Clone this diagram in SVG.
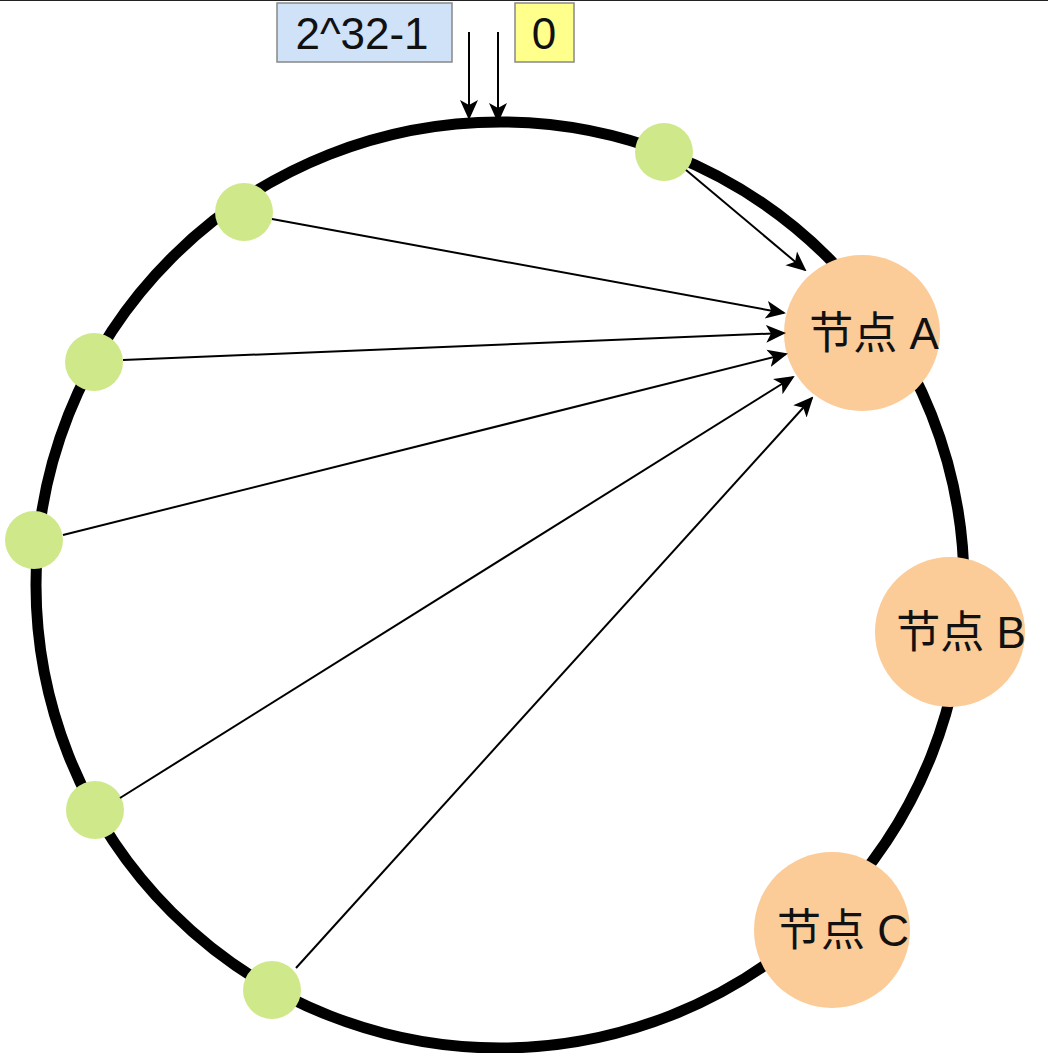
<svg xmlns="http://www.w3.org/2000/svg" width="1048" height="1053" viewBox="0 0 1048 1053">
<style>
.ring{fill:none;stroke:#000;stroke-width:11}
.key{fill:#cfe88a}
.node{fill:#fbcb98}
.edge{stroke:#000;stroke-width:2;fill:none}
.lbl{font-family:"Liberation Sans","Noto Sans CJK SC",sans-serif;font-size:44px;fill:#111;text-anchor:middle;dominant-baseline:central}
</style>
<defs>
<marker id="arr" viewBox="0 0 20 20" refX="18" refY="10" markerWidth="20" markerHeight="20" markerUnits="userSpaceOnUse" orient="auto">
<path d="M0,1 L20,10 L0,19 L5,10 Z" fill="#000"/>
</marker>
</defs>
<rect width="1048" height="1053" fill="#fff"/>
<line x1="0" y1="0.5" x2="1048" y2="0.5" stroke="#222" stroke-width="1"/>
<g id="ring"><ellipse class="ring" cx="500" cy="585" rx="464" ry="463"/></g>
<g id="label-max"><rect x="277" y="3" width="175" height="59" fill="#cfe2f7" stroke="#888" stroke-width="1.5"/><text class="lbl" x="362" y="33">2^32-1</text></g>
<g id="label-zero"><rect x="515" y="3" width="59" height="59" fill="#ffff8c" stroke="#888" stroke-width="1.5"/><text class="lbl" x="544" y="33">0</text></g>
<g id="k1"><circle class="key" cx="664" cy="152" r="29"/></g>
<g id="k2"><circle class="key" cx="244" cy="212" r="29"/></g>
<g id="k3"><circle class="key" cx="94" cy="362" r="29"/></g>
<g id="k4"><circle class="key" cx="34" cy="540" r="29"/></g>
<g id="k5"><circle class="key" cx="95" cy="810" r="29"/></g>
<g id="k6"><circle class="key" cx="272" cy="990" r="29"/></g>
<g id="nodeA"><circle class="node" cx="862" cy="333" r="78"/><text class="lbl" x="874" y="333">节点 A</text></g>
<g id="nodeB"><circle class="node" cx="950" cy="632" r="75"/><text class="lbl" x="961" y="632">节点 B</text></g>
<g id="nodeC"><circle class="node" cx="832" cy="930" r="78"/><text class="lbl" x="843" y="930">节点 C</text></g>
<g id="connectors">
<line class="edge" x1="469" y1="32" x2="469" y2="118" marker-end="url(#arr)"/>
<line class="edge" x1="498" y1="32" x2="498" y2="121" marker-end="url(#arr)"/>
<line class="edge" x1="686" y1="170" x2="805" y2="270" marker-end="url(#arr)"/>
<line class="edge" x1="272" y1="219" x2="784" y2="313" marker-end="url(#arr)"/>
<line class="edge" x1="123" y1="360" x2="784" y2="333" marker-end="url(#arr)"/>
<line class="edge" x1="63" y1="535" x2="786" y2="354" marker-end="url(#arr)"/>
<line class="edge" x1="120" y1="798" x2="793" y2="377" marker-end="url(#arr)"/>
<line class="edge" x1="296" y1="968" x2="812" y2="398" marker-end="url(#arr)"/>
</g>
</svg>
